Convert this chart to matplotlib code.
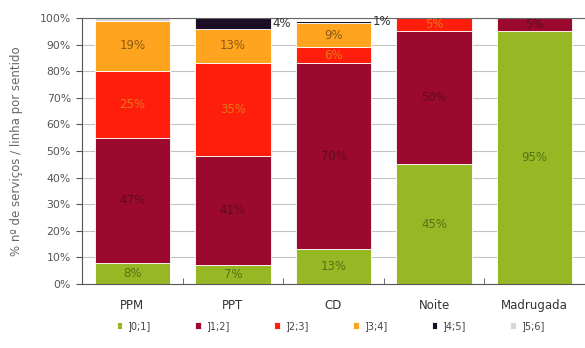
import matplotlib
matplotlib.use("Agg")
import matplotlib.pyplot as plt
import numpy as np

categories = ["PPM", "PPT", "CD", "Noite", "Madrugada"]
classes = ["]0;1]", "]1;2]", "]2;3]", "]3;4]", "]4;5]", "]5;6]"]

# share of services per class (percent), one list per class
s01 = [8, 7, 13, 45, 95]
s12 = [47, 41, 70, 50, 5]
s23 = [25, 35, 6, 5, 0]
s34 = [19, 13, 9, 0, 0]
s45 = [0, 4, 1, 0, 0]
s56 = [1, 0, 0, 0, 0]
series = [s01, s12, s23, s34, s45, s56]

colors = ["#97B824", "#9B0A2E", "#FF1E0C", "#FFA41E", "#1C0E26", "#D8D8DC"]
label_colors = ["#55721A", "#5E0A1E", "#E87418", "#8A5A16", None, None]

plt.rcParams["font.family"] = ["DejaVu Sans"]

fig = plt.figure(figsize=(5.85, 3.48), dpi=100)
ax = fig.add_axes([82 / 585, 1 - 284 / 348, 1 - 82 / 585, (284 - 18) / 348])

x = np.arange(len(categories))
bottom = np.zeros(len(categories))
handles = []
for k, vals in enumerate(series):
    vals = np.array(vals, dtype=float)
    h = ax.bar(x, vals, 0.75, bottom=bottom, color=colors[k],
               edgecolor="white", linewidth=0.6, zorder=2, label=classes[k])
    handles.append(h)
    for i, v in enumerate(vals):
        if v <= 0:
            continue
        yc = bottom[i] + v / 2
        if k <= 3:
            ax.text(x[i], yc, f"{int(v)}%", ha="center", va="center",
                    fontsize=8.5, color=label_colors[k], zorder=3)
        elif k == 4:
            ax.text(x[i] + 0.39, yc, f"{int(v)}%", ha="left", va="center",
                    fontsize=8.5, color="#333333", zorder=3)
    bottom += vals

ax.set_xlim(-0.5, len(categories) - 0.5)
ax.set_ylim(0, 100)
ax.set_yticks(np.arange(0, 101, 10))
ax.set_yticklabels([f"{t}%" for t in range(0, 101, 10)], fontsize=7.8, color="#555555")
ax.yaxis.grid(True, color="#C4C4C4", linewidth=0.8, zorder=0)
ax.set_axisbelow(True)

# category labels centred, tick marks between categories
ax.set_xticks(x)
ax.set_xticklabels(categories, fontsize=8.5, color="#333333")
ax.tick_params(axis="x", length=0, pad=11)
ax.set_xticks(np.arange(0.5, len(categories) - 0.5, 1), minor=True)
ax.tick_params(axis="x", which="minor", length=4, direction="in", color="#555555")
ax.tick_params(axis="y", length=4, direction="out", color="#555555", pad=4)

ax.spines["right"].set_visible(False)
ax.spines["top"].set_color("#666666")
ax.spines["left"].set_color("#555555")
ax.spines["bottom"].set_color("#555555")

ax.set_ylabel("% nº de serviços / linha por sentido", fontsize=8.5, color="#666666", labelpad=12)

fig.legend(handles=handles, labels=classes, loc="center", bbox_to_anchor=(0.565, 1 - 326 / 348),
           ncol=6, frameon=False, fontsize=7, handlelength=0.6, handleheight=0.6,
           columnspacing=4.6, handletextpad=0.5, labelcolor="#444444")

fig.savefig("out.png", dpi=100)
